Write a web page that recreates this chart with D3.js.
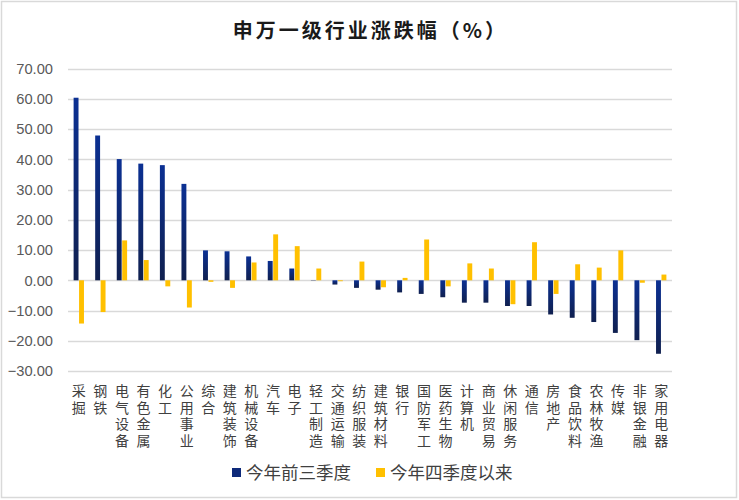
<!DOCTYPE html>
<html><head><meta charset="utf-8">
<script src="https://cdn.jsdelivr.net/npm/d3@7"></script>
<style>body{margin:0;background:#fff}svg{display:block}</style>
</head><body><div id="chart"></div>
<script>
const categories = ["采掘","钢铁","电气设备","有色金属","化工","公用事业","综合","建筑装饰","机械设备","汽车","电子","轻工制造","交通运输","纺织服装","建筑材料","银行","国防军工","医药生物","计算机","商业贸易","休闲服务","通信","房地产","食品饮料","农林牧渔","传媒","非银金融","家用电器"];
const seriesNames = ["今年前三季度","今年四季度以来"];
const q1to3 = [60.4,47.9,40.1,38.6,38.1,31.9,9.9,9.6,7.9,6.4,3.9,0.1,-1.4,-2.5,-3.1,-4.0,-4.5,-5.6,-7.4,-7.4,-8.5,-8.5,-11.3,-12.4,-13.8,-17.4,-19.8,-24.3];
const q4 = [-14.3,-10.5,13.2,6.7,-2.0,-9.0,-0.5,-2.5,5.9,15.2,11.3,3.9,-0.3,6.2,-2.3,0.8,13.5,-2.0,5.6,3.9,-7.9,12.6,-4.5,5.3,4.2,9.9,-0.8,1.9];
const yTicks = [70,60,50,40,30,20,10,0,-10,-20,-30];
const colors = ["url(#blueGrad)","#FFC000"];

const W=739,H=500;
const margin={left:68,right:67,top:68.7,bottom:129};
const svg=d3.select("#chart").append("svg").attr("width",W).attr("height",H);
const defs=svg.append("defs");
const g1=defs.append("linearGradient").attr("id","blueGrad").attr("x1",0).attr("y1",0).attr("x2",0).attr("y2",1);
g1.append("stop").attr("offset","0%").attr("stop-color","#0b3093");
g1.append("stop").attr("offset","100%").attr("stop-color","#10204f");

svg.append("rect").attr("x",1.5).attr("y",1.5).attr("width",735).attr("height",496).attr("fill","#fff").attr("stroke","#d9d9d9").attr("stroke-width",1.5);

const x=d3.scaleBand().domain(categories).range([margin.left,W-margin.right]).paddingInner(0.52).paddingOuter(0.26);
const x1=d3.scaleBand().domain(seriesNames).range([0,x.bandwidth()]).paddingInner(0.1);
const y=d3.scaleLinear().domain([-30,70]).range([H-margin.bottom,margin.top]);

// gridlines
svg.append("g").selectAll("line").data(yTicks).join("line")
 .attr("x1",margin.left).attr("x2",W-margin.right)
 .attr("y1",d=>Math.round(y(d))+0.5).attr("y2",d=>Math.round(y(d))+0.5)
 .attr("stroke","#d9d9d9").attr("stroke-width",1.5);

// y axis labels
const yAxis=d3.axisLeft(y).tickValues(yTicks).tickFormat(d3.format(".2f")).tickSize(0).tickPadding(15);
const ya=svg.append("g").attr("transform",`translate(${margin.left},0)`).call(yAxis);
ya.select(".domain").remove();
ya.selectAll("text").attr("font-family","'Liberation Sans', Arial, sans-serif").attr("font-size",14.7).attr("fill","#595959");

// bars
const series=[q1to3,q4];
series.forEach((vals,si)=>{
  svg.append("g").selectAll("rect").data(vals).join("rect")
   .attr("x",(d,i)=>x(categories[i])+x1(seriesNames[si]))
   .attr("width",x1.bandwidth())
   .attr("y",d=>y(Math.max(0,d)))
   .attr("height",d=>Math.abs(y(d)-y(0)))
   .attr("fill",colors[si]);
});

// x labels vertical (one text per category, vertical writing mode)
svg.append("g").selectAll("text").data(categories).join("text")
  .attr("x",c=>x(c)+x.bandwidth()/2)
  .attr("y",384)
  .attr("writing-mode","vertical-rl")
  .style("writing-mode","vertical-rl")
  .style("letter-spacing","2.5px")
  .attr("font-family","'Noto Sans CJK SC', sans-serif").attr("font-size",14).attr("fill","#404040")
  .text(c=>c);

// title
svg.append("text").attr("x",W/2+1).attr("y",38).attr("text-anchor","middle")
 .attr("font-family","'Noto Sans CJK SC', sans-serif").attr("font-size",20).attr("font-weight","bold").attr("fill","#1a1a1a")
 .style("letter-spacing","3px")
 .text("申万一级行业涨跌幅（%）");

// legend
const leg=[{n:seriesNames[0],c:"#0e2a7a",x:232},{n:seriesNames[1],c:"#FFC000",x:376}];
leg.forEach(l=>{
  svg.append("rect").attr("x",l.x).attr("y",468).attr("width",9).attr("height",9).attr("fill",l.c);
  svg.append("text").attr("x",l.x+14).attr("y",479).attr("font-family","'Noto Sans CJK SC', sans-serif").attr("font-size",17.5).attr("fill","#404040").text(l.n);
});
</script></body></html>
